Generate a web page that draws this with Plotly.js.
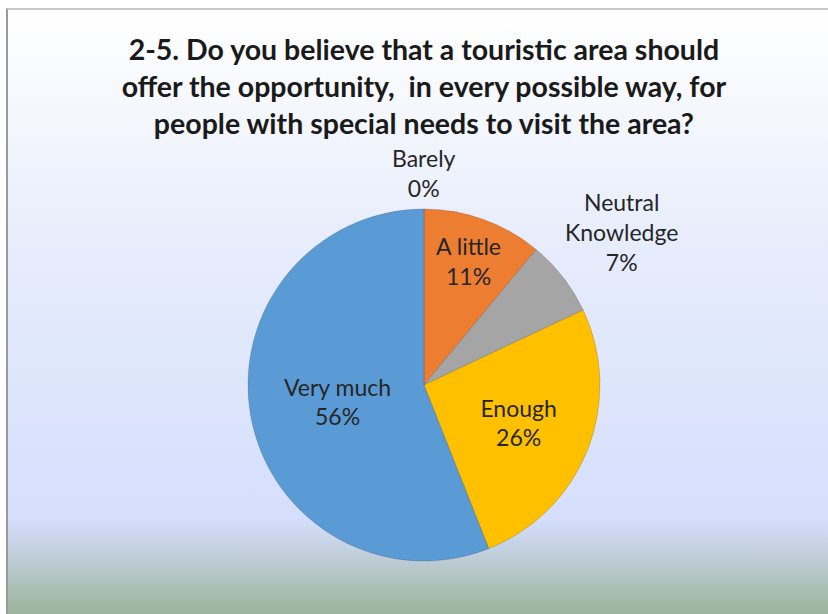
<!DOCTYPE html>
<html>
<head>
<meta charset="utf-8">
<script src="https://cdn.plot.ly/plotly-3.0.1.min.js"></script>
<style>
  html, body { margin: 0; padding: 0; background: #ffffff; }
  #frame {
    position: absolute; left: 6px; top: 8px; width: 822px; height: 606px;
    border-top: 2px solid #c8c8c8; border-left: 2px solid #9a9a9a;
    box-sizing: border-box;
    background: linear-gradient(to bottom, #ffffff 0%, #e6ecfb 40%, #d5dffd 84%, #c2cfdc 90%, #9cb39b 100%);
  }
  #chart { position: absolute; left: 0; top: 0; width: 828px; height: 614px; }
</style>
</head>
<body>
<div id="frame"></div>
<div id="chart"></div>
<script>
const categories = ["Barely", "A little", "Neutral<br>Knowledge", "Enough", "Very much"];
const percentValues = [0, 11, 7, 26, 56];
const sliceColors = ["#ed7d31", "#ed7d31", "#a5a5a5", "#ffc000", "#5b9bd5"];
const insideLabel = [false, true, false, true, true];
const chartTitle = "2-5. Do you believe that a touristic area should<br>offer the opportunity,  in every possible way, for<br>people with special needs to visit the area?";

const W = 828, H = 614;
const domX = [0.2995, 0.7246], domY = [0.0863, 0.6596];
const labelFont = { family: "Lato, 'Open Sans', sans-serif", size: 23, color: "#262626" };

const trace = {
  type: "pie",
  labels: categories,
  values: percentValues,
  sort: false,
  direction: "clockwise",
  rotation: 0,
  marker: { colors: sliceColors, line: { color: "rgba(0,0,0,0.15)", width: 1 } },
  texttemplate: insideLabel.map(v => v ? "%{label}<br>%{percent:.0%}" : ""),
  textposition: insideLabel.map(v => v ? "inside" : "none"),
  insidetextorientation: "horizontal",
  textfont: labelFont,
  showlegend: false,
  hoverinfo: "none",
  domain: { x: domX, y: domY }
};

// Outside labels (Excel-style best fit) placed along each slice's mid-angle
const total = percentValues.reduce((a, b) => a + b, 0);
const cx = (domX[0] + domX[1]) / 2 * W;
const cy = (1 - (domY[0] + domY[1]) / 2) * H;
const R = Math.min((domX[1] - domX[0]) * W, (domY[1] - domY[0]) * H) / 2;
const annotations = [];
let cum = 0;
percentValues.forEach((v, i) => {
  const mid = (cum + v / 2) / total * 2 * Math.PI;
  cum += v;
  if (insideLabel[i]) return;
  const lines = categories[i].split("<br>");
  const boxH = (lines.length + 1) * labelFont.size * 1.3;
  const boxW = Math.max(...lines.map(s => s.length)) * labelFont.size * 0.5;
  const sx = Math.sin(mid), sy = Math.cos(mid);
  const ext = Math.abs(sx) * boxW / 2 + Math.abs(sy) * boxH / 2;
  const d = R + 6 + ext;
  const px = cx + sx * d, py = cy - sy * d;
  annotations.push({
    xref: "paper", yref: "paper", x: px / W, y: 1 - py / H,
    xanchor: "center", yanchor: "middle", showarrow: false, align: "center",
    text: categories[i] + "<br>" + Math.round(v / total * 100) + "%",
    font: labelFont
  });
});

const layout = {
  width: W, height: H,
  margin: { l: 0, r: 0, t: 0, b: 0 },
  paper_bgcolor: "rgba(0,0,0,0)",
  plot_bgcolor: "rgba(0,0,0,0)",
  title: {
    text: chartTitle,
    font: { family: "Lato, sans-serif", size: 28.5, color: "#1a1a1a", weight: "bold" },
    x: 0.512, xanchor: "center",
    y: 0.9025, yanchor: "top", yref: "container"
  },
  annotations: annotations
};

Plotly.newPlot("chart", [trace], layout, { displayModeBar: false, staticPlot: true });
</script>
</body>
</html>
